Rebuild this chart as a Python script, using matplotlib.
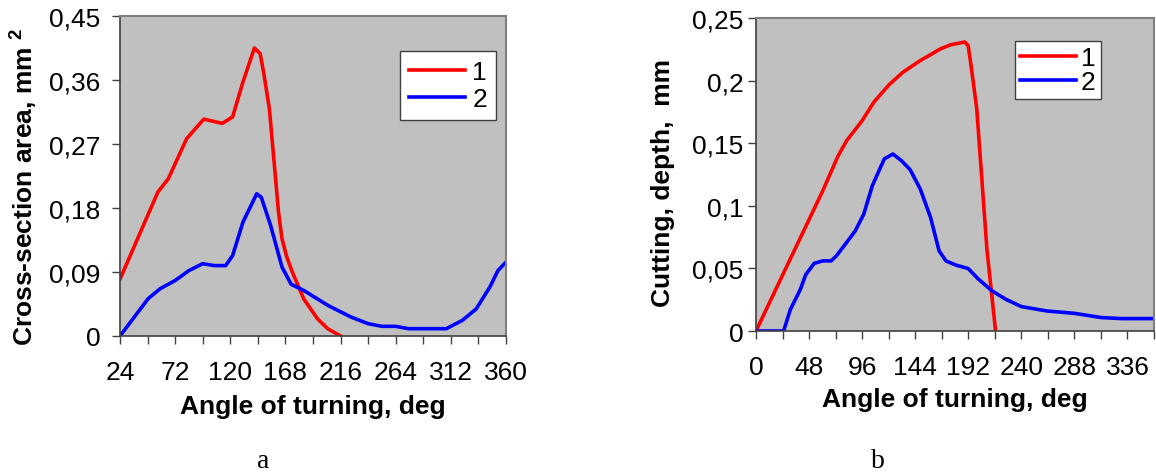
import matplotlib
matplotlib.use('Agg')
import matplotlib.pyplot as plt
import numpy as np

plt.rcParams['font.family'] = ['Liberation Sans', 'DejaVu Sans']
plt.rcParams['mathtext.fontset'] = 'custom'
plt.rcParams['mathtext.bf'] = 'Liberation Sans:bold'
plt.rcParams['mathtext.rm'] = 'Liberation Sans'

# --- panel a: cross-section area ---
a_red_x = [24, 57, 66, 82, 97, 113, 122, 131, 141, 146, 149, 154, 158, 162, 165, 169, 174, 184, 196, 205, 216]
a_red_y = [0.080, 0.2025, 0.221, 0.2775, 0.305, 0.299, 0.308, 0.357, 0.405, 0.397, 0.371, 0.320, 0.2475, 0.174, 0.137, 0.112, 0.090, 0.052, 0.024, 0.010, 0.0]
a_blue_x = [24, 48.5, 59, 72, 84, 96, 106, 116, 122, 131, 143, 147, 155, 165, 173, 184, 205, 225, 240, 252, 264, 275, 290, 308, 322, 334, 346, 353, 360]
a_blue_y = [0.0, 0.0525, 0.0666, 0.078, 0.092, 0.1017, 0.099, 0.099, 0.113, 0.160, 0.200, 0.195, 0.156, 0.097, 0.0727, 0.064, 0.043, 0.0267, 0.0173, 0.0136, 0.0136, 0.0103, 0.0103, 0.0103, 0.022, 0.038, 0.069, 0.092, 0.104]
a_xticks = list(range(24, 361, 24))
a_yticks = [0, 0.09, 0.18, 0.27, 0.36, 0.45]
a_ylabels = ['0', '0,09', '0,18', '0,27', '0,36', '0,45']

# --- panel b: cutting depth ---
b_red_x = [0, 24.8, 48, 60.4, 74.3, 82, 96, 106.8, 120.7, 133.1, 148.6, 167.2, 176.4, 188.8, 191.9, 195, 199.7, 201.2, 208.9, 216.7]
b_red_y = [0.0, 0.046, 0.089, 0.112, 0.140, 0.152, 0.168, 0.183, 0.197, 0.2068, 0.216, 0.2255, 0.2287, 0.2308, 0.228, 0.209, 0.1775, 0.159, 0.065, 0.0]
b_blue_x = [0, 20, 25, 31, 40, 45, 52.6, 60.4, 68, 72.7, 80.5, 89.8, 97.5, 105.2, 116, 123.8, 131.6, 139.3, 148.6, 157.9, 165.6, 171.8, 181, 191.9, 201.2, 213.6, 226, 240, 263, 288, 312.6, 331, 360]
b_blue_y = [0.0, 0.0, 0.0, 0.017, 0.033, 0.045, 0.054, 0.056, 0.056, 0.060, 0.069, 0.080, 0.0934, 0.116, 0.1374, 0.1414, 0.136, 0.129, 0.1134, 0.0907, 0.064, 0.056, 0.0526, 0.0499, 0.0414, 0.032, 0.0253, 0.0195, 0.016, 0.0141, 0.0107, 0.0099, 0.0099]
b_xticks = list(range(0, 361, 24))
b_yticks = [0, 0.05, 0.1, 0.15, 0.2, 0.25]
b_ylabels = ['0', '0,05', '0,1', '0,15', '0,2', '0,25']

series_names = ['1', '2']

W, H = 1156, 477
FS = 19
fig = plt.figure(figsize=(W / 100, H / 100), dpi=100)


def make_axes(box):
    l, t, r, b = box
    return fig.add_axes([l / W, 1 - b / H, (r - l) / W, (b - t) / H])


def style(ax, xticks, yticks, ylabels, ypad):
    ax.set_facecolor('#c0c0c0')
    for s in ['top', 'right']:
        ax.spines[s].set_color('#7f7f7f')
        ax.spines[s].set_linewidth(1.5)
    for s in ['left', 'bottom']:
        ax.spines[s].set_color('#404040')
        ax.spines[s].set_linewidth(1.2)
    ax.set_xticks(xticks)
    ax.set_xticklabels([str(v) if i % 2 == 0 else '' for i, v in enumerate(xticks)])
    ax.set_yticks(yticks)
    ax.set_yticklabels(ylabels)
    ax.tick_params(direction='out', length=6, width=1, color='#404040',
                   labelsize=FS)
    ax.tick_params(axis='x', pad=11)
    ax.tick_params(axis='y', pad=ypad)


ax1 = make_axes((120, 17, 506, 337))
ax1.plot(a_red_x, a_red_y, color='#ff0000', lw=2.6, label=series_names[0])
ax1.plot(a_blue_x, a_blue_y, color='#0000ff', lw=2.6, label=series_names[1])
ax1.set_xlim(24, 360)
ax1.set_ylim(0, 0.45)
style(ax1, a_xticks, a_yticks, a_ylabels, 8)
ax1.set_xlabel('Angle of turning, deg', fontsize=FS, fontweight='bold')
ax1.set_ylabel(r'Cross-section area, mm $^{\mathbf{2}}$', fontsize=FS, fontweight='bold')
ax1.xaxis.set_label_coords(0.5, -0.18)
ax1.yaxis.set_label_coords(-0.21, 0.47)
leg1 = ax1.legend(loc='upper left', bbox_to_anchor=(0.725, 0.89), fontsize=FS,
                  frameon=True, fancybox=False, framealpha=1, edgecolor='#404040',
                  handlelength=2.1, handletextpad=0.3, labelspacing=0.1,
                  borderpad=0.35, borderaxespad=0)
leg1.get_frame().set_linewidth(1)

ax2 = make_axes((756, 19, 1154, 332))
ax2.plot(b_red_x, b_red_y, color='#ff0000', lw=2.6, label=series_names[0])
ax2.plot(b_blue_x, b_blue_y, color='#0000ff', lw=2.6, label=series_names[1])
ax2.set_xlim(0, 360)
ax2.set_ylim(0, 0.25)
style(ax2, b_xticks, b_yticks, b_ylabels, 3)
ax2.set_xlabel('Angle of turning, deg', fontsize=FS, fontweight='bold')
ax2.set_ylabel('Cutting, depth,  mm', fontsize=FS, fontweight='bold')
ax2.xaxis.set_label_coords(0.5, -0.18)
ax2.yaxis.set_label_coords(-0.2035, 0.476)
leg2 = ax2.legend(loc='upper left', bbox_to_anchor=(0.651, 0.927), fontsize=FS,
                  frameon=True, fancybox=False, framealpha=1, edgecolor='#404040',
                  handlelength=2.1, handletextpad=0.2, labelspacing=0.0,
                  borderpad=0.2, borderaxespad=0)
leg2.get_frame().set_linewidth(1)

fig.text(263 / W, 1 - 462 / H, 'a', family=['Liberation Serif', 'DejaVu Serif'],
         fontsize=20, ha='center', va='center')
fig.text(878 / W, 1 - 462 / H, 'b', family=['Liberation Serif', 'DejaVu Serif'],
         fontsize=20, ha='center', va='center')

fig.savefig('out.png', dpi=100)
